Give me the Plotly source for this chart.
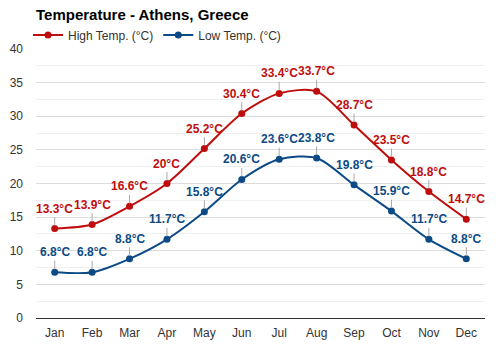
import plotly.graph_objects as go

months = ["Jan", "Feb", "Mar", "Apr", "May", "Jun", "Jul", "Aug", "Sep", "Oct", "Nov", "Dec"]
high_temp = [13.3, 13.9, 16.6, 20, 25.2, 30.4, 33.4, 33.7, 28.7, 23.5, 18.8, 14.7]
low_temp = [6.8, 6.8, 8.8, 11.7, 15.8, 20.6, 23.6, 23.8, 19.8, 15.9, 11.7, 8.8]
y_ticks = [0, 5, 10, 15, 20, 25, 30, 35, 40]

RED = "#bf0d0d"
BLUE = "#0b4a85"
FONT = "Liberation Sans, Arial, sans-serif"

fig = go.Figure()
fig.add_trace(go.Scatter(x=months, y=high_temp, name="High Temp. (°C)", mode="lines+markers",
                         line=dict(color=RED, width=2, shape="spline", smoothing=0.8),
                         marker=dict(size=7, color=RED)))
fig.add_trace(go.Scatter(x=months, y=low_temp, name="Low Temp. (°C)", mode="lines+markers",
                         line=dict(color=BLUE, width=2, shape="spline", smoothing=0.8),
                         marker=dict(size=7, color=BLUE)))

annotations = []
for series, color in ((high_temp, RED), (low_temp, BLUE)):
    for m, v in zip(months, series):
        annotations.append(dict(x=m, y=v, xref="x", yref="y", text=f"{v:g}°C",
                                showarrow=True, arrowhead=0, arrowwidth=1, arrowcolor="#aaaaaa",
                                ax=0, ay=-20, standoff=3,
                                font=dict(family=FONT, size=12, color=color, weight="bold")))

fig.update_layout(
    width=500, height=350,
    margin=dict(l=36, r=15, t=49, b=32, autoexpand=False),
    paper_bgcolor="white", plot_bgcolor="white",
    font=dict(family=FONT, size=12, color="#333333"),
    title=dict(text="<b>Temperature - Athens, Greece</b>", x=36 / 500, xanchor="left",
               xref="container", yref="container",
               y=1 - 15 / 350, yanchor="middle", font=dict(size=15, color="#000000")),
    legend=dict(orientation="h", xref="container", yref="container",
                x=28 / 500, y=1 - 35 / 350, xanchor="left", yanchor="middle",
                font=dict(size=12, color="#333333"), itemwidth=30, bgcolor="rgba(0,0,0,0)"),
    showlegend=True,
    annotations=annotations,
    xaxis=dict(type="category", range=[-0.5, 11.5], showline=True, linecolor="#333333", linewidth=1,
               showgrid=False, ticks="", ticklabelstandoff=4, automargin=False,
               tickfont=dict(size=12, color="#333333"), fixedrange=True),
    yaxis=dict(range=[0, 40], tickvals=y_ticks, showline=False,
               gridcolor="#dcdcdc", zeroline=False, ticks="", ticklabelstandoff=12, automargin=False,
               minor=dict(dtick=2.5, tick0=0, showgrid=True, gridcolor="#efefef"),
               tickfont=dict(size=12, color="#333333"), fixedrange=True),
)

fig.write_html("out.html")
